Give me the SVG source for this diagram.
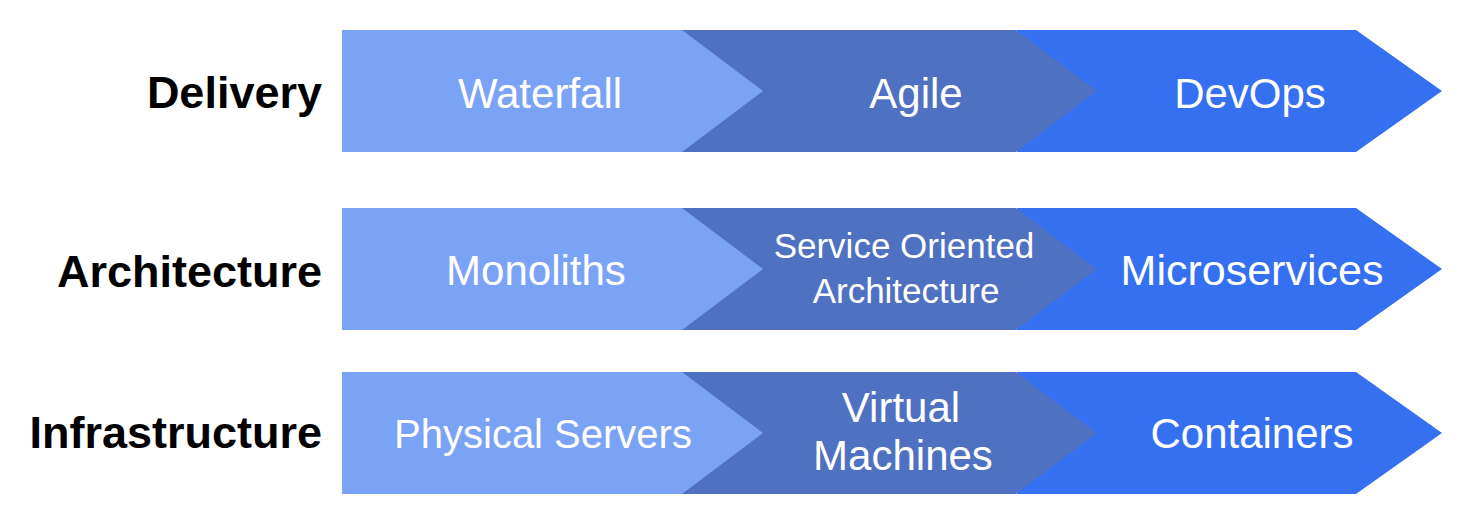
<svg xmlns="http://www.w3.org/2000/svg" width="1467" height="518" viewBox="0 0 1467 518">
<style>
.c1{fill:#7ba3f5}
.c2{fill:#4f71c2}
.c3{fill:#3570f1}
.lbl{font-family:"Liberation Sans",Arial,sans-serif;font-weight:bold;font-size:45px;fill:#000;text-anchor:end}
.t{font-family:"Liberation Sans",Arial,sans-serif;font-size:42px;fill:#fff;text-anchor:middle}
.ts{font-family:"Liberation Sans",Arial,sans-serif;font-size:35px;fill:#fff;text-anchor:middle}
</style>
<rect width="1467" height="518" fill="#fff"/>
<g id="label-delivery"><text class="lbl" x="322" y="108">Delivery</text></g>
<g id="label-architecture"><text class="lbl" x="322" y="287">Architecture</text></g>
<g id="label-infrastructure"><text class="lbl" x="322" y="448">Infrastructure</text></g>

<g id="devops"><polygon class="c3" points="1017,30 1356,30 1442,91 1356,152 1017,152"/><text class="t" x="1250" y="108">DevOps</text></g>
<g id="agile"><polygon class="c2" points="682,30 1016,30 1097,91 1016,152 682,152"/><text class="t" x="916" y="108">Agile</text></g>
<g id="waterfall"><polygon class="c1" points="342,30 682,30 763,91 682,152 342,152"/><text class="t" x="540" y="108">Waterfall</text></g>

<g id="microservices"><polygon class="c3" points="1017,208 1356,208 1442,269 1356,330 1017,330"/><text class="t" x="1252" y="285" style="font-size:43px">Microservices</text></g>
<g id="soa"><polygon class="c2" points="682,208 1016,208 1097,269 1016,330 682,330"/><text class="ts" x="904" y="258">Service Oriented</text><text class="ts" x="906" y="303">Architecture</text></g>
<g id="monoliths"><polygon class="c1" points="342,208 682,208 763,269 682,330 342,330"/><text class="t" x="536" y="285">Monoliths</text></g>

<g id="containers"><polygon class="c3" points="1017,372 1356,372 1442,433 1356,494 1017,494"/><text class="t" x="1252" y="448">Containers</text></g>
<g id="vms"><polygon class="c2" points="682,372 1016,372 1097,433 1016,494 682,494"/><text class="t" x="901" y="422">Virtual</text><text class="t" x="903" y="470">Machines</text></g>
<g id="physical"><polygon class="c1" points="342,372 682,372 763,433 682,494 342,494"/><text class="t" x="543" y="448" style="font-size:40px">Physical Servers</text></g>
</svg>
